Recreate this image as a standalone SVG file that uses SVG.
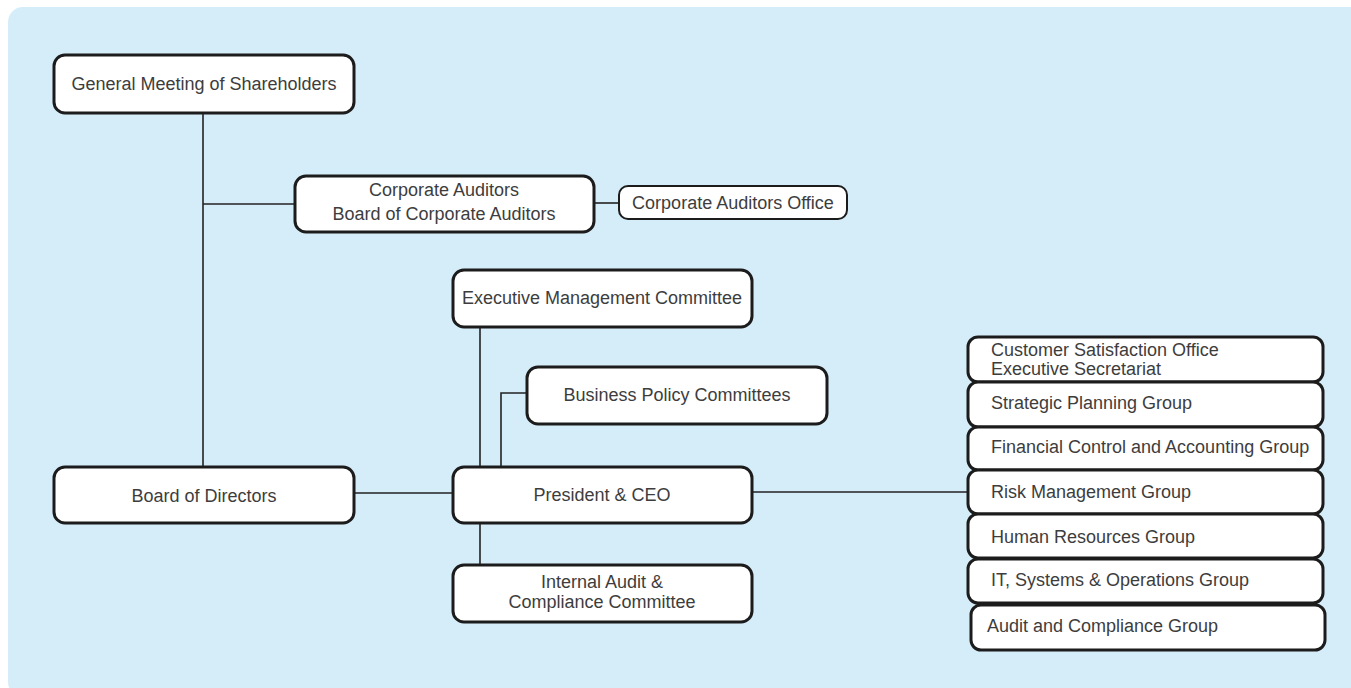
<svg xmlns="http://www.w3.org/2000/svg" width="1351" height="688" viewBox="0 0 1351 688">
  <style>
    .box { fill: #ffffff; stroke: #1c1c1c; stroke-width: 3; }
    .box-thin { fill: #ffffff; stroke: #1c1c1c; stroke-width: 2; }
    .link { fill: none; stroke: #222222; stroke-width: 1.6; }
    .label { font-family: "Liberation Sans", Arial, sans-serif; font-size: 18px; fill: #3d3d3d; }
    .mid { text-anchor: middle; }
  </style>

  <!-- panel background -->
  <rect x="8" y="7" width="1370" height="690" rx="15" fill="#d5ecf9"/>

  <!-- connectors -->
  <g id="connectors">
    <line class="link" x1="203" y1="113" x2="203" y2="467"/>
    <line class="link" x1="203" y1="204" x2="295" y2="204"/>
    <line class="link" x1="594" y1="203" x2="619" y2="203"/>
    <line class="link" x1="480" y1="327" x2="480" y2="467"/>
    <polyline class="link" points="527,393 501,393 501,467"/>
    <line class="link" x1="354" y1="493" x2="453" y2="493"/>
    <line class="link" x1="752" y1="492" x2="968" y2="492"/>
    <line class="link" x1="480" y1="523" x2="480" y2="565"/>
  </g>

  <g id="general-meeting">
    <rect class="box" x="54" y="55" width="300" height="58" rx="11"/>
    <text class="label mid" x="204" y="90">General Meeting of Shareholders</text>
  </g>

  <g id="corporate-auditors">
    <rect class="box" x="295" y="176" width="299" height="56" rx="11"/>
    <text class="label mid" x="444" y="196">Corporate Auditors</text>
    <text class="label mid" x="444" y="220">Board of Corporate Auditors</text>
  </g>

  <g id="corporate-auditors-office">
    <rect class="box-thin" x="619" y="186" width="228" height="33" rx="9"/>
    <text class="label mid" x="733" y="209">Corporate Auditors Office</text>
  </g>

  <g id="executive-management-committee">
    <rect class="box" x="453" y="270" width="299" height="57" rx="11"/>
    <text class="label mid" x="602" y="304">Executive Management Committee</text>
  </g>

  <g id="business-policy-committees">
    <rect class="box" x="527" y="367" width="300" height="57" rx="11"/>
    <text class="label mid" x="677" y="401">Business Policy Committees</text>
  </g>

  <g id="board-of-directors">
    <rect class="box" x="54" y="467" width="300" height="56" rx="11"/>
    <text class="label mid" x="204" y="502">Board of Directors</text>
  </g>

  <g id="president-ceo">
    <rect class="box" x="453" y="467" width="299" height="56" rx="11"/>
    <text class="label mid" x="602" y="501">President &amp; CEO</text>
  </g>

  <g id="internal-audit-committee">
    <rect class="box" x="453" y="565" width="299" height="57" rx="11"/>
    <text class="label mid" x="602" y="588">Internal Audit &amp;</text>
    <text class="label mid" x="602" y="608">Compliance Committee</text>
  </g>

  <!-- corporate groups column -->
  <g id="customer-satisfaction-office">
    <rect class="box" x="968" y="337" width="355" height="45" rx="10"/>
    <text class="label" x="991" y="356">Customer Satisfaction Office</text>
    <text class="label" x="991" y="375">Executive Secretariat</text>
  </g>

  <g id="strategic-planning-group">
    <rect class="box" x="968" y="382" width="355" height="45" rx="10"/>
    <text class="label" x="991" y="409">Strategic Planning Group</text>
  </g>

  <g id="financial-control-group">
    <rect class="box" x="968" y="427" width="355" height="43" rx="10"/>
    <text class="label" x="991" y="453">Financial Control and Accounting Group</text>
  </g>

  <g id="risk-management-group">
    <rect class="box" x="968" y="470" width="355" height="44" rx="10"/>
    <text class="label" x="991" y="498">Risk Management Group</text>
  </g>

  <g id="human-resources-group">
    <rect class="box" x="968" y="514" width="355" height="44" rx="10"/>
    <text class="label" x="991" y="543">Human Resources Group</text>
  </g>

  <g id="it-systems-group">
    <rect class="box" x="968" y="559" width="355" height="44" rx="10"/>
    <text class="label" x="991" y="586">IT, Systems &amp; Operations Group</text>
  </g>

  <g id="audit-compliance-group">
    <rect class="box" x="971" y="605" width="354" height="45" rx="10"/>
    <text class="label" x="987" y="632">Audit and Compliance Group</text>
  </g>
</svg>
